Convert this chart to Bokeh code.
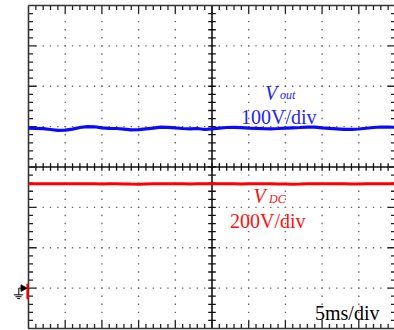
from bokeh.plotting import figure
from bokeh.models import Range1d, Label
from bokeh.embed import file_html
from bokeh.resources import INLINE

# ---- data -------------------------------------------------------------
# time base: 5 ms/div over 10 divisions
time_ms = list(range(0, 51))

# output voltage trace (screen divisions, 100 V/div)
vout_level = [4.961, 4.959, 4.949, 4.929, 4.909, 4.914, 4.939, 4.978, 4.998, 4.996,
              4.971, 4.959, 4.954, 4.939, 4.919, 4.924, 4.944, 4.963, 4.988, 4.983,
              4.968, 4.954, 4.946, 4.954, 4.929, 4.944, 4.963, 4.978, 4.981, 4.973,
              4.963, 4.956, 4.949, 4.946, 4.954, 4.963, 4.971, 4.978, 4.988, 4.986,
              4.968, 4.956, 4.946, 4.934, 4.931, 4.941, 4.959, 4.978, 4.991, 4.988,
              4.983]

# DC-link voltage trace (screen divisions, 200 V/div)
vdc_level = [3.584, 3.584, 3.584, 3.583, 3.584, 3.584, 3.584, 3.584, 3.584, 3.583,
             3.580, 3.584, 3.584, 3.582, 3.577, 3.575, 3.582, 3.584, 3.584, 3.584,
             3.584, 3.583, 3.579, 3.584, 3.584, 3.584, 3.584, 3.584, 3.583, 3.578,
             3.584, 3.584, 3.584, 3.583, 3.576, 3.582, 3.575, 3.578, 3.584, 3.584,
             3.584, 3.584, 3.583, 3.584, 3.582, 3.580, 3.584, 3.584, 3.583, 3.584,
             3.584]

ms_per_div = 5
n_xdiv, n_ydiv, n_sub = 10, 8, 5
ground_div = 1

# ---- canvas geometry ----------------------------------------------------
W, H = 394, 330
LEFT_PX, RIGHT_PX = 28.0, 395.0
TOP_PX, BOTTOM_PX = 5.0, 328.0
ux = (RIGHT_PX - LEFT_PX) / n_xdiv      # px per x division
uy = (BOTTOM_PX - TOP_PX) / n_ydiv      # px per y division


def xd(px):
    return (px - LEFT_PX) / ux


def yd(py):
    return (BOTTOM_PX - py) / uy


p = figure(width=W, height=H, output_backend="svg", toolbar_location=None,
           x_range=Range1d(xd(0), xd(W)), y_range=Range1d(yd(H), yd(0)),
           min_border=0, min_border_left=0, min_border_right=0,
           min_border_top=0, min_border_bottom=0)
p.xaxis.visible = False
p.yaxis.visible = False
p.grid.visible = False
p.outline_line_color = None
p.background_fill_color = "white"
p.border_fill_color = "white"

# ---- graticule dots -----------------------------------------------------
dot_x, dot_y = [], []
for gx in range(1, n_xdiv):
    if gx == n_xdiv // 2:
        continue
    for k in range(1, n_ydiv * n_sub):
        dot_x.append(gx)
        dot_y.append(k / n_sub)
for gy in range(1, n_ydiv):
    if gy == n_ydiv // 2:
        continue
    for k in range(1, n_xdiv * n_sub):
        dot_x.append(k / n_sub)
        dot_y.append(gy)
p.scatter(dot_x, dot_y, marker="square", size=1.4, fill_color="#6a6a6a",
          line_color=None)

# ---- centre cross lines with ticks --------------------------------------
p.segment(x0=[0], y0=[n_ydiv / 2], x1=[n_xdiv], y1=[n_ydiv / 2],
          line_color="#111111", line_width=1.6)
p.segment(x0=[n_xdiv / 2], y0=[0], x1=[n_xdiv / 2], y1=[n_ydiv],
          line_color="#111111", line_width=1.6)

ct = 3.8  # half length of centre ticks, px
cx0, cy0, cx1, cy1 = [], [], [], []
for k in range(1, n_xdiv * n_sub):
    x = k / n_sub
    cx0.append(x); cx1.append(x)
    cy0.append(n_ydiv / 2 - ct / uy); cy1.append(n_ydiv / 2 + ct / uy)
for k in range(1, n_ydiv * n_sub):
    y = k / n_sub
    cy0.append(y); cy1.append(y)
    cx0.append(n_xdiv / 2 - ct / ux); cx1.append(n_xdiv / 2 + ct / ux)
p.segment(x0=cx0, y0=cy0, x1=cx1, y1=cy1, line_color="#111111", line_width=1.3)

# ---- frame edge ticks (pointing inward) ---------------------------------
minor_len, major_len = 4.5, 8.0
ex0, ey0, ex1, ey1 = [], [], [], []
for k in range(1, n_xdiv * n_sub):
    x = k / n_sub
    L = major_len if k % n_sub == 0 else minor_len
    ex0 += [x, x]; ex1 += [x, x]
    ey0 += [0, n_ydiv]; ey1 += [L / uy, n_ydiv - L / uy]
for k in range(1, n_ydiv * n_sub):
    y = k / n_sub
    L = major_len if k % n_sub == 0 else minor_len
    ey0 += [y, y]; ey1 += [y, y]
    ex0 += [0, n_xdiv]; ex1 += [L / ux, n_xdiv - L / ux]
p.segment(x0=ex0, y0=ey0, x1=ex1, y1=ey1, line_color="#222222", line_width=1.3)

# frame border
p.line([0, 0, n_xdiv, n_xdiv, 0], [n_ydiv, 0, 0, n_ydiv, n_ydiv],
       line_color="#333333", line_width=1.6)

# ---- traces -------------------------------------------------------------
t_div = [t / ms_per_div for t in time_ms]
p.line(t_div, vout_level, line_color="#0a0aff", line_width=3.2)
p.line(t_div, vdc_level, line_color="#ff0000", line_width=3.0)

# ---- ground reference marker --------------------------------------------
g = ground_div
p.segment(x0=[xd(27)], y0=[g + 4.5 / uy], x1=[xd(27)], y1=[g - 11 / uy],
          line_color="#ff0000", line_width=2.2)
p.patch([xd(26.5), xd(20.5), xd(20.5)], [g, g + 3.3 / uy, g - 3.3 / uy],
        fill_color="black", line_color="black", line_width=0.8)
p.line([xd(20.5), xd(18.3), xd(18.3)], [g, g, g - 6.7 / uy],
       line_color="black", line_width=1)
p.segment(x0=[xd(13.3), xd(15.0), xd(16.7)],
          y0=[g - 6.7 / uy, g - 8.6 / uy, g - 10.5 / uy],
          x1=[xd(22.7), xd(21.0), xd(19.5)],
          y1=[g - 6.7 / uy, g - 8.6 / uy, g - 10.5 / uy],
          line_color="black", line_width=1)

# ---- labels -------------------------------------------------------------
serif = "Liberation Serif"
blue_txt = "#2626ee"
red_txt = "#ff1010"
LIFT = 7.5  # baseline correction for Label placement, px


def put(text, px, py, color, size, style="normal"):
    p.add_layout(Label(x=xd(px), y=yd(py - LIFT), text=text, text_color=color,
                       text_font=serif, text_font_size=f"{size}px",
                       text_font_style=style, text_baseline="alphabetic",
                       text_align="left"))


put("V", 264.5, 99.5, blue_txt, 20, "italic")
put("out", 279.5, 102, blue_txt, 12, "italic")
put("100V/div", 240.5, 124, blue_txt, 20)

put("V", 253, 203, red_txt, 20, "italic")
put("DC", 268.5, 206, red_txt, 12, "italic")
put("200V/div", 229.5, 227.5, red_txt, 20)

put("5ms/div", 314.5, 320, "black", 20)

open("out.html", "w").write(file_html(p, INLINE))
